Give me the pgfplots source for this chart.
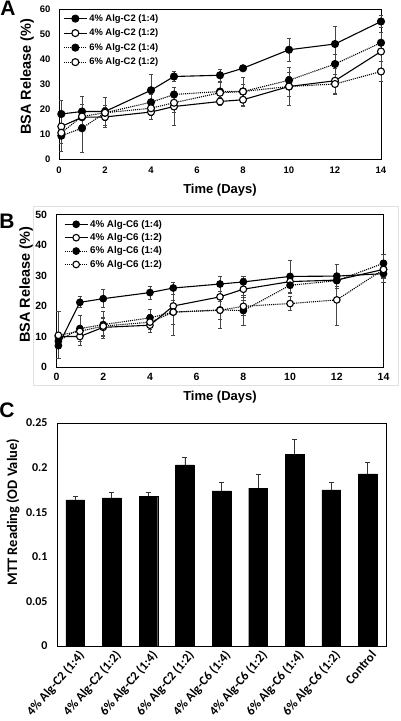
\documentclass[border=0pt]{standalone}
\usepackage{fontspec}
\setmainfont{Liberation Sans}
\newfontfamily\carlito{Carlito}
\usepackage{pgfplots}
\usepackage{pgfplotstable}
\pgfplotsset{compat=1.18}

% Panel A data: x y e
\pgfplotstableread{
x y e
0.1 18 5.3
1 19 6
2 19 5.5
4 27.5 6.5
5 33 2
7 33.5 2.5
8 36.3 1
10 43.7 4.5
12 46 7
14 55 2.5
}\Aone
\pgfplotstableread{
x y e
0.1 13 4
1 16.7 3
2 16.8 4
4 18.8 3
5 21 7.5
7 23 1.5
8 23.7 2.5
10 29 7.5
12 31.3 5
14 43 4
}\Atwo
\pgfplotstableread{
x y e
0.1 9.3 3
1 12.3 9.5
2 18.5 3
4 22.7 3
5 25.8 3
7 27 3.5
8 27 5.5
10 31.5 3
12 38 4
14 46.5 4
}\Athree
\pgfplotstableread{
x y e
0.1 10.5 7.5
1 17 3
2 18.5 6
4 20.3 3
5 22.5 4
7 26.5 4
8 27 3
10 29 4
12 30 4
14 35 4
}\Afour

% Panel B data
\pgfplotstableread{
x y e
0.08 7 1
1 21.2 1.8
2 22.4 3
4 24.4 2.2
5 25.9 2
7 27.2 2.5
8 27.9 1.8
10 29.7 5.3
12 29.8 4
14 30.6 3
}\Bone
\pgfplotstableread{
x y e
0.08 10 1.5
1 10 2.8
2 13 3
4 13.7 2.5
5 20 2
7 23 3.5
8 25.5 3.5
10 28 2
12 28.5 2
14 32 2.5
}\Btwo
\pgfplotstableread{
x y e
0.08 8.5 2
1 12.6 4.3
2 13.9 4.5
4 16.1 2.8
5 18 7.5
7 18.7 6
8 18.5 5
10 26.8 2.5
12 28.3 2.5
14 34 3
}\Bthree
\pgfplotstableread{
x y e
0.08 10.4 7.7
1 11.7 2
2 13.4 3
4 14.7 2.5
5 18 4
7 18.6 3
8 19.9 3
10 20.8 2.2
12 22 8.5
14 32 3
}\Bfour

\pgfplotsset{
  errs/.style={error bars/.cd, y dir=both, y explicit,
    error bar style={gray!55!black, line width=0.7pt, solid},
    error mark options={rotate=90, mark size=2.2pt, gray!55!black, line width=0.7pt, solid}},
  sA/.style={black, line width=1.1pt, solid, mark=*, mark size=#1, mark options={solid, fill=black, draw=black}},
  sB/.style={black, line width=1.1pt, solid, mark=*, mark size=#1, mark options={solid, fill=white, draw=black}},
  sC/.style={black, line width=1.1pt, densely dotted, mark=*, mark size=#1, mark options={solid, fill=black, draw=black}},
  sD/.style={black, line width=1.1pt, densely dotted, mark=*, mark size=#1, mark options={solid, fill=white, draw=black}},
  release/.style={
    scale only axis, clip=false,
    axis line style={black, line width=0.9pt},
    major tick length=0pt,
    xmin=0, xmax=14, xtick={0,2,...,14}, ymin=0,
    /pgf/number format/assume math mode=true,
    label style={font=\bfseries},
    legend cell align=left,
    legend image code/.code={\draw[mark repeat=2,mark phase=2] plot coordinates {(0cm,0cm) (0.4cm,0cm) (0.8cm,0cm)};},
  },
}

\begin{document}
\begin{tikzpicture}
\path[use as bounding box] (0pt,0pt) rectangle (400pt,721pt);

% ---------------- Panel A ----------------
\node[font=\bfseries\fontsize{21}{21}\selectfont] at (8pt,713pt) {A};
\begin{axis}[release,
  at={(59pt,562pt)}, anchor=south west, width=322pt, height=150pt,
  ymax=60, ytick={0,10,...,60},
  tick label style={font=\bfseries\fontsize{9.5}{10}\selectfont},
  yticklabel style={xshift=-5pt},
  xticklabel style={yshift=-4pt},
  xlabel={Time (Days)}, ylabel={BSA Release (\%)},
  xlabel style={at={(axis description cs:0.5,-0.207)}, anchor=center, font=\bfseries\fontsize{13}{14}\selectfont},
  ylabel style={at={(axis description cs:-0.099,0.547)}, anchor=center, font=\bfseries\fontsize{14.5}{15}\selectfont},
  legend style={draw=none, fill=none, at={(axis description cs:0.01,0.985)}, anchor=north west,
    font=\bfseries\fontsize{9.4}{10}\selectfont, row sep=2.2pt, inner sep=1pt},
]
\addplot[sA=3.5pt, errs] table[x=x, y=y, y error=e] {\Aone};
\addlegendentry{4\% Alg-C2 (1:4)}
\addplot[sB=3.5pt, errs] table[x=x, y=y, y error=e] {\Atwo};
\addlegendentry{4\% Alg-C2 (1:2)}
\addplot[sC=3.5pt, errs] table[x=x, y=y, y error=e] {\Athree};
\addlegendentry{6\% Alg-C2 (1:4)}
\addplot[sD=3.5pt, errs] table[x=x, y=y, y error=e] {\Afour};
\addlegendentry{6\% Alg-C2 (1:2)}
\end{axis}

% ---------------- Panel B ----------------
\draw[gray!25, line width=0.8pt] (33pt,336pt) rectangle (398pt,515pt);
\node[font=\bfseries\fontsize{21}{21}\selectfont] at (7pt,500pt) {B};
\begin{axis}[release,
  at={(56.5pt,354pt)}, anchor=south west, width=327pt, height=152.5pt,
  ymax=50, ytick={0,10,...,50},
  tick label style={font=\bfseries\fontsize{10.5}{11}\selectfont},
  yticklabel style={xshift=-6pt},
  xticklabel style={yshift=-3pt},
  xlabel={Time (Days)}, ylabel={BSA Release (\%)},
  xlabel style={at={(axis description cs:0.5,-0.197)}, anchor=center, font=\bfseries\fontsize{13}{14}\selectfont},
  ylabel style={at={(axis description cs:-0.093,0.538)}, anchor=center, font=\bfseries\fontsize{14.5}{15}\selectfont},
  legend style={draw=none, fill=none, at={(axis description cs:0.02,0.985)}, anchor=north west,
    font=\bfseries\fontsize{9.8}{10}\selectfont, row sep=0.8pt, inner sep=1pt},
]
\addplot[sA=3.3pt, errs] table[x=x, y=y, y error=e] {\Bone};
\addlegendentry{4\% Alg-C6 (1:4)}
\addplot[sB=3.3pt, errs] table[x=x, y=y, y error=e] {\Btwo};
\addlegendentry{4\% Alg-C6 (1:2)}
\addplot[sC=3.3pt, errs] table[x=x, y=y, y error=e] {\Bthree};
\addlegendentry{6\% Alg-C6 (1:4)}
\addplot[sD=3.3pt, errs] table[x=x, y=y, y error=e] {\Bfour};
\addlegendentry{6\% Alg-C6 (1:2)}
\end{axis}

% ---------------- Panel C ----------------
\node[font=\bfseries\fontsize{21}{21}\selectfont] at (7pt,311pt) {C};
\begin{axis}[
  scale only axis, clip=false,
  at={(57pt,75pt)}, anchor=south west, width=329pt, height=223pt,
  axis line style={black, line width=0.9pt},
  major tick length=0pt,
  xmin=-0.5, xmax=8.5, ymin=0, ymax=0.25,
  ytick={0,0.05,0.1,0.15,0.2,0.25},
  yticklabels={0,0.05,0.1,0.15,0.2,0.25},
  xtick={0,...,8},
  xticklabels={4\% Alg-C2 (1:4),4\% Alg-C2 (1:2),6\% Alg-C2 (1:4),6\% Alg-C2 (1:2),4\% Alg-C6 (1:4),4\% Alg-C6 (1:2),6\% Alg-C6 (1:4),6\% Alg-C6 (1:2),Control},
  yticklabel style={font=\carlito\bfseries\fontsize{12}{12}\selectfont, xshift=-6pt},
  xticklabel style={font=\carlito\bfseries\fontsize{12.8}{13}\selectfont, rotate=49, anchor=north east, inner sep=0pt, xshift=-1pt, yshift=-4pt},
  ylabel={MTT Reading (OD Value)},
  ylabel style={at={(axis description cs:-0.134,0.60)}, anchor=center, font=\carlito\bfseries\fontsize{14.5}{15}\selectfont},
]
\addplot[ybar, bar width=18.7pt, fill=black, draw=black,
  error bars/.cd, y dir=plus, y explicit,
  error bar style={black!80, line width=0.7pt},
  error mark options={rotate=90, mark size=2.5pt, black!80, line width=0.7pt}]
coordinates {
(0,0.1637) +- (0,0.0045)
(1,0.1660) +- (0,0.0065)
(2,0.1680) +- (0,0.0040)
(3,0.2030) +- (0,0.0090)
(4,0.1740) +- (0,0.0090)
(5,0.1770) +- (0,0.0150)
(6,0.2150) +- (0,0.0170)
(7,0.1750) +- (0,0.0080)
(8,0.1930) +- (0,0.0130)
};
\end{axis}
\end{tikzpicture}
\end{document}
